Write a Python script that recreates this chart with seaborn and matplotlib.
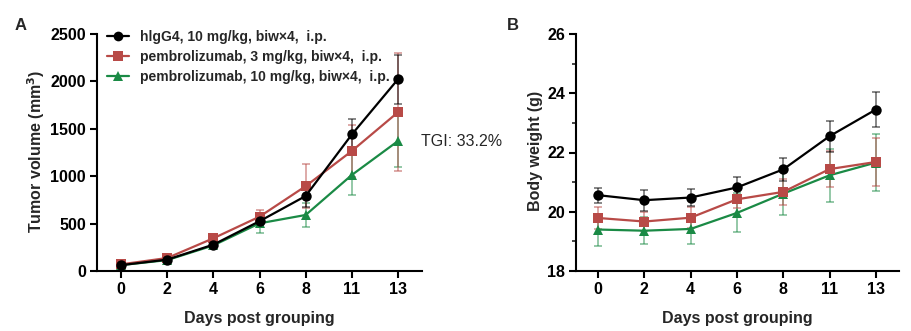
import matplotlib
matplotlib.use("Agg")
import matplotlib.pyplot as plt
from matplotlib.ticker import MultipleLocator
from matplotlib.lines import Line2D
import seaborn as sns
import pandas as pd
import numpy as np

sns.set_theme(style="ticks")
plt.rcParams['font.family'] = ['Liberation Sans', 'DejaVu Sans']

days = ["0", "2", "4", "6", "8", "11", "13"]
legend_labels = ["hlgG4, 10 mg/kg, biw×4,  i.p.",
                 "pembrolizumab, 3 mg/kg, biw×4,  i.p.",
                 "pembrolizumab, 10 mg/kg, biw×4,  i.p."]

# Tumor volume (mm3)
tv_igg4 = [62, 120, 278, 525, 791, 1440, 2023]
tv_igg4_err = [8, 15, 30, 50, 113, 160, 258]
tv_p3 = [70, 137, 345, 573, 895, 1266, 1675]
tv_p3_err = [10, 18, 35, 74, 232, 272, 620]
tv_p10 = [62, 115, 270, 503, 591, 1013, 1371]
tv_p10_err = [8, 15, 30, 100, 124, 213, 277]

# Body weight (g)
bw_igg4 = [20.56, 20.39, 20.48, 20.82, 21.43, 22.55, 23.45]
bw_igg4_err = [0.25, 0.35, 0.30, 0.35, 0.40, 0.52, 0.59]
bw_p3 = [19.79, 19.67, 19.80, 20.42, 20.67, 21.44, 21.68]
bw_p3_err = [0.38, 0.32, 0.36, 0.30, 0.45, 0.62, 0.81]
bw_p10 = [19.40, 19.36, 19.42, 19.96, 20.61, 21.23, 21.66]
bw_p10_err = [0.54, 0.46, 0.50, 0.66, 0.73, 0.89, 0.95]

tgi_text = "TGI: 33.2%"
tgi_y = 1371

colors = ["#000000", "#B84A47", "#1A8A45"]
markers = ["o", "s", "^"]

fig = plt.figure(figsize=(9.11, 3.31), dpi=100)
axA = fig.add_axes([97/911, 1-271/331, (422-97)/911, (271-34)/331])
axB = fig.add_axes([576/911, 1-271/331, (899-576)/911, (271-34)/331])

def draw(ax, series, errs, order=(2, 1, 0)):
    pos = np.arange(len(days))
    for i in order:
        df = pd.DataFrame({"pos": pos, "val": series[i]})
        sns.lineplot(data=df, x="pos", y="val", ax=ax, color=colors[i],
                     marker=markers[i], markersize=7 if i else 7.5,
                     markeredgewidth=0, linewidth=1.6, zorder=3 + (2 - i))
        ax.errorbar(pos, series[i], yerr=errs[i], fmt="none",
                    ecolor=colors[i], alpha=0.55, elinewidth=1.2,
                    capsize=3.2, capthick=1.2, zorder=2)

draw(axA, [tv_igg4, tv_p3, tv_p10], [tv_igg4_err, tv_p3_err, tv_p10_err])
draw(axB, [bw_igg4, bw_p3, bw_p10], [bw_igg4_err, bw_p3_err, bw_p10_err])

for ax in (axA, axB):
    ax.set_xticks(np.arange(len(days)))
    ax.set_xticklabels(days)
    ax.set_xlabel("Days post grouping", fontsize=11.5, fontweight="bold")
    ax.xaxis.set_label_coords(0.5, -0.167)
    for s in ("top", "right"):
        ax.spines[s].set_visible(False)
    for s in ("left", "bottom"):
        ax.spines[s].set_linewidth(1.5)
        ax.spines[s].set_color("black")
    ax.tick_params(axis="both", which="major", length=5, width=1.5,
                   labelsize=11.5, colors="black", pad=3)
    ax.tick_params(axis="both", which="minor", length=3, width=1.2)

axA.set_xlim(-0.52, 6.52)
axA.set_ylim(0, 2500)
axA.yaxis.set_major_locator(MultipleLocator(500))
axA.set_ylabel("Tumor volume (mm$^\\mathbf{3}$)", fontsize=11.5, fontweight="bold")
axA.yaxis.set_label_coords(-0.155, 0.506)

axB.set_xlim(-0.475, 6.5)
axB.set_ylim(18, 26)
axB.yaxis.set_major_locator(MultipleLocator(2))
axB.yaxis.set_minor_locator(MultipleLocator(1))
axB.set_ylabel("Body weight (g)", fontsize=11.5, fontweight="bold")
axB.yaxis.set_label_coords(-0.103, 0.506)

for ax in (axA, axB):
    for lab in ax.get_xticklabels() + ax.get_yticklabels():
        lab.set_fontweight("bold")

hs = [Line2D([0], [0], color=colors[i], marker=markers[i], markersize=7,
             markeredgewidth=0, linewidth=1.6) for i in range(3)]
axA.legend(hs, legend_labels, loc="upper left",
           bbox_to_anchor=(0.0 - 3/325, 1 + 17/237),
           frameon=False, handlelength=1.6, handletextpad=0.8,
           labelspacing=0.45, prop={"weight": "bold", "size": 10})

axA.text(6.5, tgi_y, tgi_text, fontsize=11.5, va="center", ha="left",
         clip_on=False)

fig.text(15/911, 1-26/331, "A", fontsize=12, fontweight="bold", va="center")
fig.text(507/911, 1-26/331, "B", fontsize=12, fontweight="bold", va="center")

fig.savefig("out.png", dpi=100)
